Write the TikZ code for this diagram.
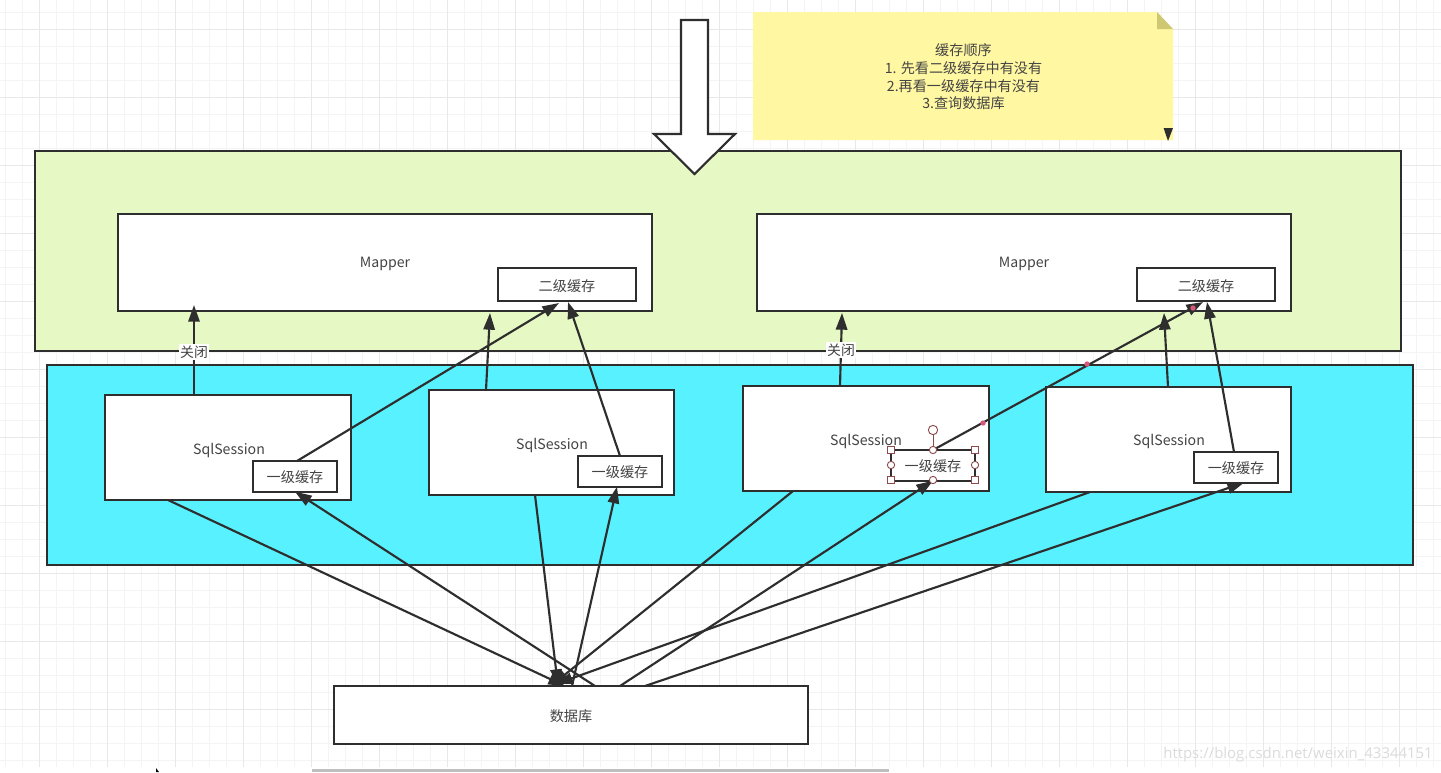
\documentclass[tikz,border=0pt]{standalone}
\usepackage{fontspec}
\setmainfont{Open Sans}
\newfontfamily\cjk{Noto Sans CJK SC}
\usetikzlibrary{arrows.meta,calc}
\definecolor{ink}{HTML}{2E2E2E}
\definecolor{txt}{HTML}{444444}
\definecolor{gmin}{HTML}{F4F4F4}
\definecolor{gmaj}{HTML}{E8E8E8}
\definecolor{pale}{HTML}{E6F9C4}
\definecolor{cyanbox}{HTML}{58F1FF}
\definecolor{notey}{HTML}{FFF7A1}
\definecolor{fold}{HTML}{CFC872}
\definecolor{handle}{HTML}{8E4A4A}
\definecolor{dot}{HTML}{D9577A}
\tikzset{
  x=0.75pt,y=-0.75pt,
  box/.style={draw=ink,line width=1.6pt,outer sep=0pt,fill=white,inner sep=0pt,text=txt,font=\cjk\fontsize{10.6}{12}\selectfont},
  boxtext/.style={inner sep=0pt,outer sep=0pt,text=txt,font=\cjk\fontsize{10.6}{12}\selectfont},
  band/.style={draw=ink,line width=1.4pt,outer sep=0pt,inner sep=0pt},
  conn/.style={draw=ink,line width=1.6pt,-{Triangle[length=12.5pt,width=8.5pt]}},
  lbl/.style={inner sep=1pt,fill=white,text=txt,font=\cjk\fontsize{10.4}{11}\selectfont},
  grab/.style={draw=handle,line width=.7pt,fill=white,inner sep=0pt,minimum size=5.5pt},
  grabr/.style={grab,circle},
  pinkdot/.style={circle,fill=dot,inner sep=0pt,minimum size=4pt},
}
\newcommand{\lowr}[1]{\raisebox{-0.9pt}[\height][\depth]{#1}}
\newcommand{\rectnode}[7][]{\node[#2,#1,minimum width=#5*0.75pt-#3*0.75pt,minimum height=#6*0.75pt-#4*0.75pt,anchor=north west] at (#3,#4) {#7};}
\begin{document}
\begin{tikzpicture}
\useasboundingbox (0,0) rectangle (1441,772);
\fill[white] (0,0) rectangle (1441,772);
% grid
\foreach \i in {0,...,85} {\draw[gmin,line width=.6pt] ({5.3+17*\i},0) -- ({5.3+17*\i},767);}
\foreach \i in {0,...,45} {\draw[gmin,line width=.6pt] (0,{12+17*\i}) -- (1441,{12+17*\i});}
\foreach \i in {0,...,21} {\draw[gmaj,line width=.6pt] ({39.3+68*\i},0) -- ({39.3+68*\i},767);}
\foreach \i in {0,...,11} {\draw[gmaj,line width=.6pt] (0,{29+68*\i}) -- (1441,{29+68*\i});}
% window strip
\fill[white] (0,767) rectangle (1441,772);
\fill[black!25] (312,769) rectangle (889,772);
\fill[black] (156,768) -- (156,772) -- (159,772) -- cycle;
% bands
\node[band,fill=pale,minimum width=1366*0.75pt,minimum height=200*0.75pt,anchor=north west] (green) at (35,151) {};
\node[band,fill=cyanbox,minimum width=1366*0.75pt,minimum height=200*0.75pt,anchor=north west] (cyanb) at (47,365) {};
% note
\path[fill=notey] (753,12) -- (1157,12) -- (1173,29) -- (1173,140) -- (753,140) -- cycle;
\fill[fold] (1157,12) -- (1173,29) -- (1157,29) -- cycle;
\node[inner sep=0pt,align=center,text=txt,font=\cjk\fontsize{10.6}{13.3}\selectfont] (note) at (963.5,77) {缓存顺序\\1. 先看二级缓存中有没有\\2.再看一级缓存中有没有\\3.查询数据库};
% block arrow
\draw[ink,line width=1.6pt,fill=white,line join=miter] (681,20) -- (708,20) -- (708,134) -- (735,134) -- (694.5,174) -- (654,134) -- (681,134) -- cycle;
% boxes
\rectnode{box}{118}{214}{652}{311}{}
\node[boxtext] (m1) at (385,263) {\lowr{Mapper}};
\rectnode{box}{757}{214}{1291}{311}{}
\node[boxtext] (m2) at (1024,263) {\lowr{Mapper}};
\node[box,minimum width=103.5pt,minimum height=24.75pt,anchor=north west] (c21) at (498,268) {\lowr{二级缓存}};
\node[box,minimum width=103.5pt,minimum height=24.75pt,anchor=north west] (c22) at (1137,268) {\lowr{二级缓存}};
\rectnode{box}{105}{395}{351}{500}{}
\rectnode{box}{429}{390}{674}{495}{}
\rectnode{box}{743}{386}{989}{491}{}
\rectnode{box}{1046}{387}{1291}{492}{}
\node[boxtext] (s1) at (229,449) {\lowr{SqlSession}};
\node[boxtext] (s2) at (552,444) {\lowr{SqlSession}};
\node[boxtext] (s3) at (866,440) {\lowr{SqlSession}};
\node[boxtext] (s4) at (1169,440) {\lowr{SqlSession}};
\node[box,minimum width=63pt,minimum height=23pt,anchor=north west] (c1) at (253,461) {\lowr{一级缓存}};
\node[box,minimum width=63pt,minimum height=23pt,anchor=north west] (c2) at (578,456) {\lowr{一级缓存}};
\node[box,minimum width=63pt,minimum height=23pt,anchor=north west] (c3) at (891,450) {\lowr{一级缓存}};
\node[box,minimum width=63pt,minimum height=23pt,anchor=north west] (c4) at (1194,452) {\lowr{一级缓存}};
\node[box,minimum width=355.5pt,minimum height=43.5pt,anchor=north west] (db) at (334,686) {\lowr{数据库}};
% connectors
\draw[conn] ($(s1)+(-35,-54)$) -- ($(m1)+(-191,42)$);
\draw[conn] ($(c1.north)+(2,0)$) -- ($(c21.south)+(-8,2)$);
\draw[conn] ($(s2)+(-66,-54)$) -- ($(m1)+(105,50)$);
\draw[conn] (c2.north) -- ($(c21.south)+(1,1)$);
\draw[conn] ($(s3)+(-26,-54)$) -- ($(m2)+(-182,50)$);
\draw[conn] (c3.north) -- ($(c22.south)+(-3,1)$);
\draw[conn] ($(s4)+(-1,-53)$) -- ($(m2)+(140,50)$);
\draw[conn] ($(c4.north)-(2,0)$) -- ($(c22.south)+(1,1)$);
\draw[conn] ($(s1)+(-61,51)$) -- ($(db.north)+(-6,0)$);
\draw[conn] ($(db.north)+(24,0)$) -- (c1.south);
\draw[conn] ($(s2)+(-17,51)$) -- ($(db.north)+(-13,0)$);
\draw[conn] ($(db.north)+(1,0)$) -- ($(c2.south)-(3,0)$);
\draw[conn] ($(s3)+(-73,51)$) -- ($(db.north)+(-19,-1)$);
\draw[conn] ($(db.north)+(49,0)$) -- (c3.south);
\draw[conn] ($(s4)+(-79,52)$) -- ($(db.north)+(-15,-2)$);
\draw[conn] ($(db.north)+(74,0)$) -- ($(c4.south)+(8,0)$);
% labels
\node[lbl] (close1) at (194,352) {关闭};
\node[lbl] (close2) at (841,350) {关闭};
% selection handles
\draw[handle,line width=.7pt] (933,450) -- (933,430);
\node[grabr,minimum size=7pt] (h0) at (933,430) {};
\foreach \n/\px/\py/\st in {h1/891/450/grab,h2/933/450/grabr,h3/975/450/grab,h4/891/465/grabr,h5/975/465/grabr,h6/891/480/grab,h7/933/480/grabr,h8/975/480/grab}
  \node[\st] (\n) at (\px,\py) {};
\node[pinkdot] (d1) at (983,423) {};
\node[pinkdot] (d2) at (1087,364) {};
\node[pinkdot] (d3) at (1193,308) {};
% note marker
\fill[ink] (1163.6,128) -- (1173,128) -- (1168,141) -- cycle;
% watermark
\node[anchor=east,inner sep=0pt,text=black!14,font=\fontsize{11.2}{13}\selectfont] (wm) at (1433,755) {https://blog.csdn.net/weixin\_43344151};
\end{tikzpicture}
\end{document}
